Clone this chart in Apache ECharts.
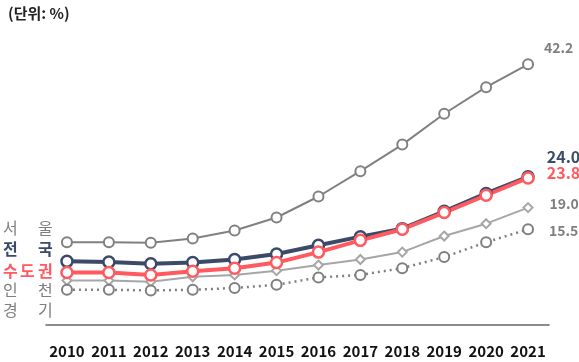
<!DOCTYPE html>
<html>
<head>
<meta charset="utf-8">
<script src="https://cdn.jsdelivr.net/npm/echarts@6/dist/echarts.min.js"></script>
<style>
 html, body { margin: 0; padding: 0; background: #fff; }
 #chart { width: 579px; height: 362px; }
</style>
</head>
<body>
<div id="chart"></div>
<script>
// 연도
var years = ['2010','2011','2012','2013','2014','2015','2016','2017','2018','2019','2020','2021'];
// 시리즈 값 (단위: %)
var seoul   = [13.4, 13.4, 13.3, 14.0, 15.3, 17.4, 20.8, 24.9, 29.2, 34.2, 38.5, 42.2];
var nation  = [10.3, 10.2, 9.9, 10.1, 10.6, 11.5, 12.9, 14.3, 15.6, 18.4, 21.3, 24.0];
var capital = [8.5, 8.5, 8.1, 8.7, 9.2, 10.1, 11.8, 13.7, 15.5, 18.2, 21.0, 23.8];
var gyeonggi = [7.2, 7.2, 7.0, 7.8, 8.1, 8.8, 9.7, 10.6, 11.8, 14.4, 16.4, 19.0];
var incheon = [5.7, 5.7, 5.6, 5.7, 6.0, 6.5, 7.7, 8.1, 9.2, 11.0, 13.4, 15.5];

var FONT = '"Noto Sans CJK KR", "Noto Sans", sans-serif';

var myChart = echarts.init(document.getElementById('chart'));

// 마지막 값에만 라벨 표시
function withEndLabel(arr, color, size, dist, dy) {
  return arr.map(function (v, i) {
    if (i < arr.length - 1) return v;
    return {
      value: v,
      label: {
        show: true, position: 'right', distance: dist, offset: [0, dy],
        formatter: function (p) { return p.value.toFixed(1); },
        color: color, fontSize: size, fontWeight: 'bold', fontFamily: FONT
      }
    };
  });
}

// 왼쪽 범례 글자
var legendRows = [
  { chars: ['서', '', '울'], color: '#7f7f7f', bold: false, y: 229 },
  { chars: ['전', '', '국'], color: '#3b4a68', bold: true, y: 250 },
  { chars: ['수', '도', '권'], color: '#ff5a5f', bold: true, y: 272 },
  { chars: ['인', '', '천'], color: '#7f7f7f', bold: false, y: 291 },
  { chars: ['경', '', '기'], color: '#7f7f7f', bold: false, y: 311 }
];
var colX = [11, 28, 46];
var graphics = [];
legendRows.forEach(function (r) {
  r.chars.forEach(function (c, j) {
    if (!c) return;
    graphics.push({
      type: 'text', left: colX[j] - 8, top: r.y - 9,
      style: { text: c, fill: r.color, font: (r.bold ? 'bold ' : '') + '16px ' + FONT }
    });
  });
});
graphics.push({
  type: 'text', left: 8, top: 6,
  style: { text: '(단위: %)', fill: '#222', font: 'bold 15px ' + FONT }
});

var option = {
  animation: false,
  grid: { left: 46, right: 30, top: 47, bottom: 37 },
  graphic: graphics,
  xAxis: {
    type: 'category',
    data: years,
    boundaryGap: true,
    axisLine: { lineStyle: { color: '#666', width: 1.5 } },
    axisTick: { show: false },
    axisLabel: { color: '#111', fontSize: 15, fontWeight: 'bold', fontFamily: FONT, margin: 19, interval: 0 }
  },
  yAxis: {
    type: 'value', min: 0, max: 45,
    show: false,
    splitLine: { show: false }
  },
  series: [
    {
      name: '서울', type: 'line', data: withEndLabel(seoul, '#7f7f7f', 14, 10, -17),
      symbol: 'circle', symbolSize: 10,
      lineStyle: { color: '#808080', width: 2 },
      itemStyle: { color: '#fff', borderColor: '#808080', borderWidth: 2 }
    },
    {
      name: '경기', type: 'line', data: withEndLabel(gyeonggi, '#7f7f7f', 14, 16, -4),
      symbol: 'diamond', symbolSize: 9,
      lineStyle: { color: '#a6a6a6', width: 2 },
      itemStyle: { color: '#fff', borderColor: '#a6a6a6', borderWidth: 2 }
    },
    {
      name: '인천', type: 'line', data: withEndLabel(incheon, '#7f7f7f', 14, 15, 1),
      symbol: 'circle', symbolSize: 10,
      lineStyle: { color: '#7f7f7f', width: 2.5, type: [2, 4] },
      itemStyle: { color: '#fff', borderColor: '#7f7f7f', borderWidth: 2 }
    },
    {
      name: '전국', type: 'line', data: withEndLabel(nation, '#3b4a68', 16, 12, -20),
      symbol: 'circle', symbolSize: 11,
      lineStyle: { color: '#3b4a68', width: 4 },
      itemStyle: { color: '#fff', borderColor: '#3b4a68', borderWidth: 2.5 }
    },
    {
      name: '수도권', type: 'line', data: withEndLabel(capital, '#ff5a5f', 16, 12, -5),
      symbol: 'circle', symbolSize: 11,
      lineStyle: { color: '#ff5a5f', width: 4 },
      itemStyle: { color: '#fff', borderColor: '#ff5a5f', borderWidth: 2.5 }
    }
  ]
};

myChart.setOption(option);
</script>
</body>
</html>
